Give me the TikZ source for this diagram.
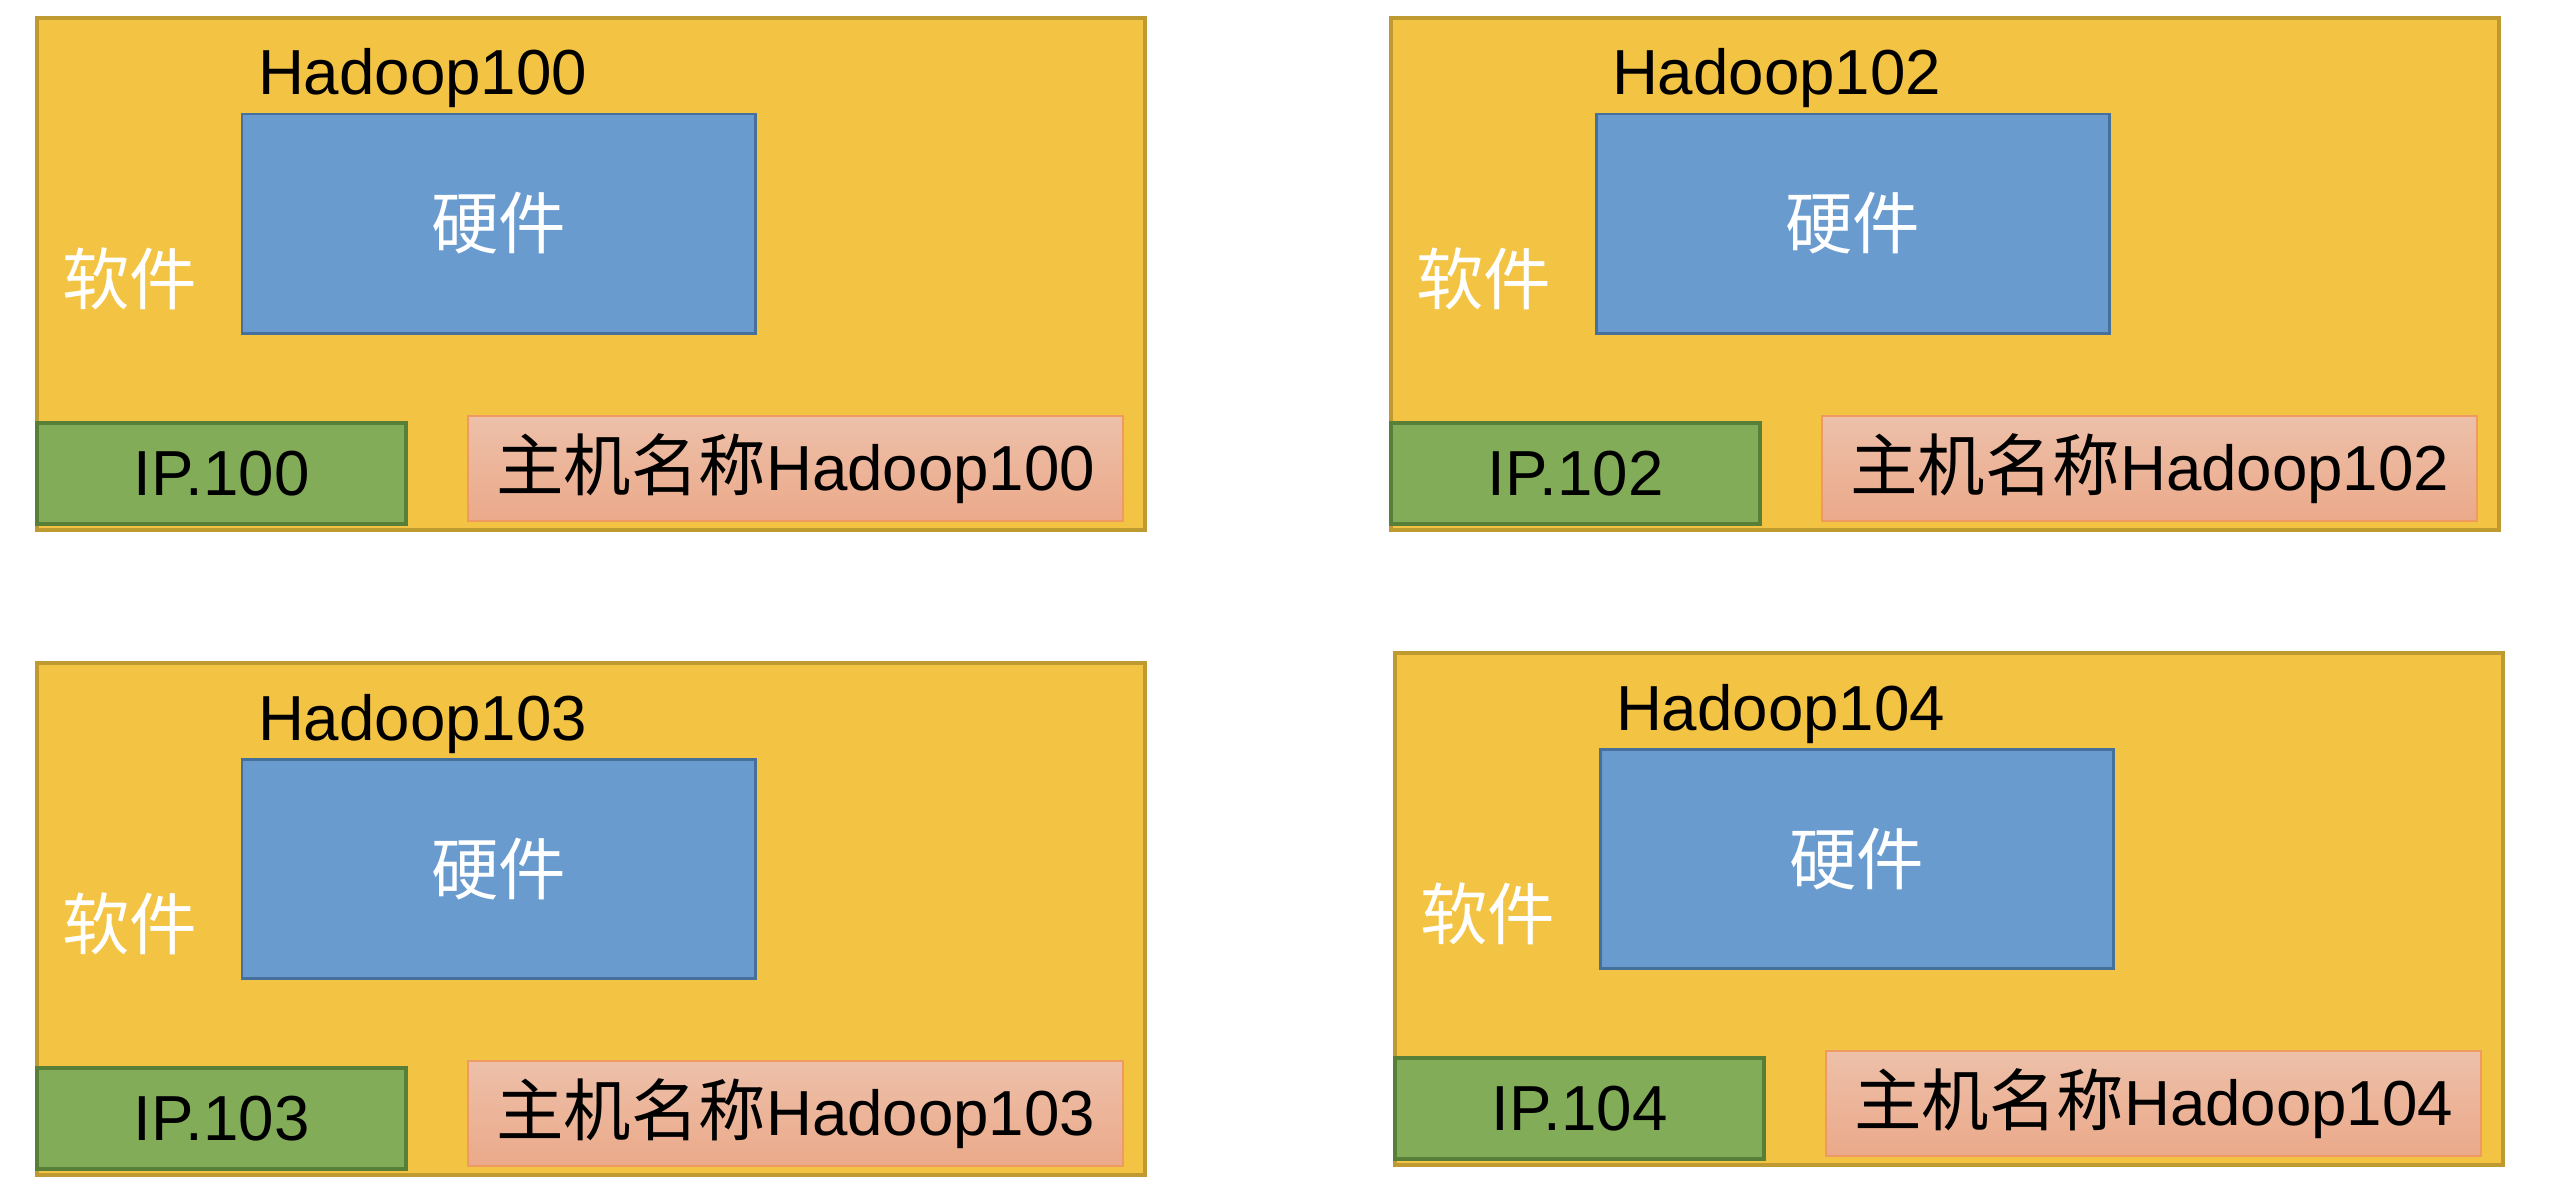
\documentclass[tikz,border=0pt]{standalone}
\usepackage{fontspec}
\setmainfont{Liberation Sans}
\newfontfamily\cjk[Scale=1.06]{Noto Sans CJK SC}
\usepackage{xcolor}
\definecolor{gold}{HTML}{F3C343}
\definecolor{goldline}{HTML}{BF9A30}
\definecolor{steel}{HTML}{6A9BCF}
\definecolor{steelline}{HTML}{46709C}
\definecolor{grass}{HTML}{82AC57}
\definecolor{grassline}{HTML}{587F37}
\definecolor{peachtop}{HTML}{EDC0A9}
\definecolor{peachbot}{HTML}{EBA98A}
\definecolor{peachline}{HTML}{EE9A62}
\usepackage{tikz}
\usetikzlibrary{positioning}

\begin{document}
\begin{tikzpicture}[x=0.01cm, y=0.01cm,
  every node/.style={font=\fontsize{18.1}{22}\selectfont, inner sep=0pt, outer sep=0pt},
  hostbox/.style={draw=goldline, line width=1.1pt, fill=gold, anchor=north west,
    minimum width=11.07cm, minimum height=5.12cm},
  hwbox/.style={draw=steelline, line width=0.85pt, fill=steel, text=white, anchor=north west,
    minimum width=5.135cm, minimum height=2.19cm},
  ipbox/.style={draw=grassline, line width=1.1pt, fill=grass, anchor=north west,
    minimum width=3.69cm, minimum height=1.01cm},
  namebox/.style={draw=peachline, line width=0.6pt, top color=peachtop, bottom color=peachbot,
    anchor=north west, minimum width=6.55cm, minimum height=1.05cm},
  hosttitle/.style={anchor=base west},
  swlabel/.style={text=white, anchor=west}]
  \useasboundingbox (0,0) rectangle (2564,1190);

  \foreach \n/\x/\y in {100/37/1172, 102/1391/1172, 103/37/527, 104/1395/537} {
    % Host frame (software layer)
    \node[hostbox] (host\n) at (\x,\y) {};
    \node[hosttitle] (title\n) at ([shift={(221,-77)}]host\n.north west) {Hadoop\n};
    \node[swlabel] (sw\n) at ([shift={(25,-261)}]host\n.north west) {\cjk 软件};

    % Hardware
    \node[hwbox] (hw\n) at ([shift={(205,-96)}]host\n.north west) {\cjk 硬件};

    % Address and host name
    \node[ipbox] (ip\n) at ([shift={(0,-405)}]host\n.north west) {IP.\n};
    \node[namebox] (name\n) at ([shift={(431,-398)}]host\n.north west) {{\cjk 主机名称}Hadoop\n};
  }
\end{tikzpicture}
\end{document}
